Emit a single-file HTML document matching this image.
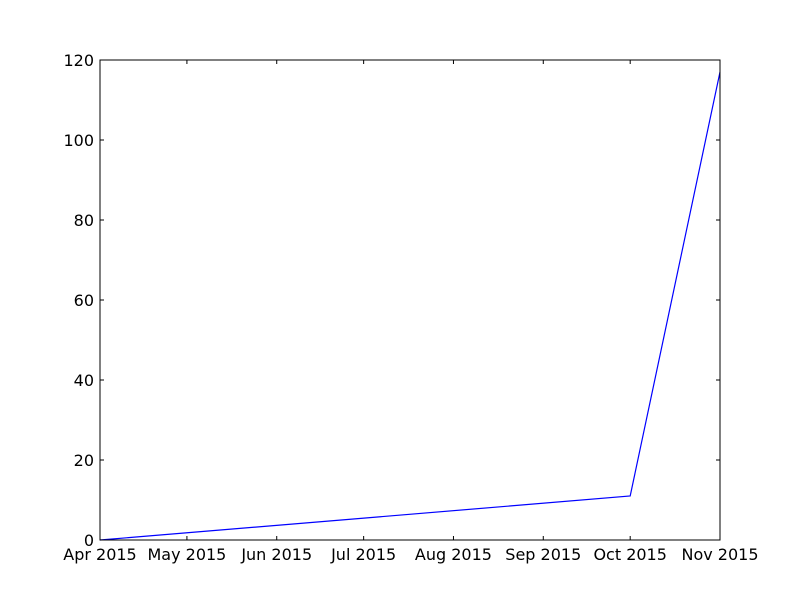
<!DOCTYPE html>
<html><head><meta charset="utf-8"><style>
body{margin:0;background:#fff;}
svg text{font-family:"DejaVu Sans","Liberation Sans",sans-serif;font-size:16px;fill:#000;}
</style></head><body>
<svg id="chart" width="800" height="600" xmlns="http://www.w3.org/2000/svg">
<rect x="0" y="0" width="800" height="600" fill="#fff"/>
<g id="plot"></g>
</svg>
<script>
const tickDays = [0, 30, 61, 91, 122, 153, 183, 214];
const tickLabels = ["Apr 2015","May 2015","Jun 2015","Jul 2015","Aug 2015","Sep 2015","Oct 2015","Nov 2015"];
const pointDays = [0, 183, 214];
const pointValues = [0, 11, 117];
const yTicks = [0, 20, 40, 60, 80, 100, 120];

const L=100,R=720,T=60,B=540;
const xs=d=>L+(d-0)/(214-0)*(R-L);
const ys=v=>B-(v-0)/(120-0)*(B-T);
const NS="http://www.w3.org/2000/svg";
const g=document.getElementById('plot');
function mk(tag,attrs){const e=document.createElementNS(NS,tag);for(const k in attrs)e.setAttribute(k,attrs[k]);g.appendChild(e);return e;}

const line=mk('polyline',{points:pointDays.map((d,i)=>xs(d)+','+ys(pointValues[i])).join(' '),fill:'none',stroke:'#0000ff','stroke-width':1.2});



const frame=mk('rect',{x:L,y:T,width:R-L,height:B-T,fill:'none',stroke:'#000','stroke-width':1});



tickDays.forEach((d,i)=>{
  const x=xs(d);
  mk('line',{x1:x,y1:B,x2:x,y2:B-4,stroke:'#000'});
  mk('line',{x1:x,y1:T,x2:x,y2:T+4,stroke:'#000'});
  const t=mk('text',{x:x,y:B+20,'text-anchor':'middle'});
  t.textContent=tickLabels[i];
  
  
});
yTicks.forEach(v=>{
  const y=ys(v);
  mk('line',{x1:L,y1:y,x2:L+4,y2:y,stroke:'#000'});
  mk('line',{x1:R,y1:y,x2:R-4,y2:y,stroke:'#000'});
  const t=mk('text',{x:L-6,y:y+6,'text-anchor':'end'});
  t.textContent=v;
  
  
});
</script>
</body></html>
